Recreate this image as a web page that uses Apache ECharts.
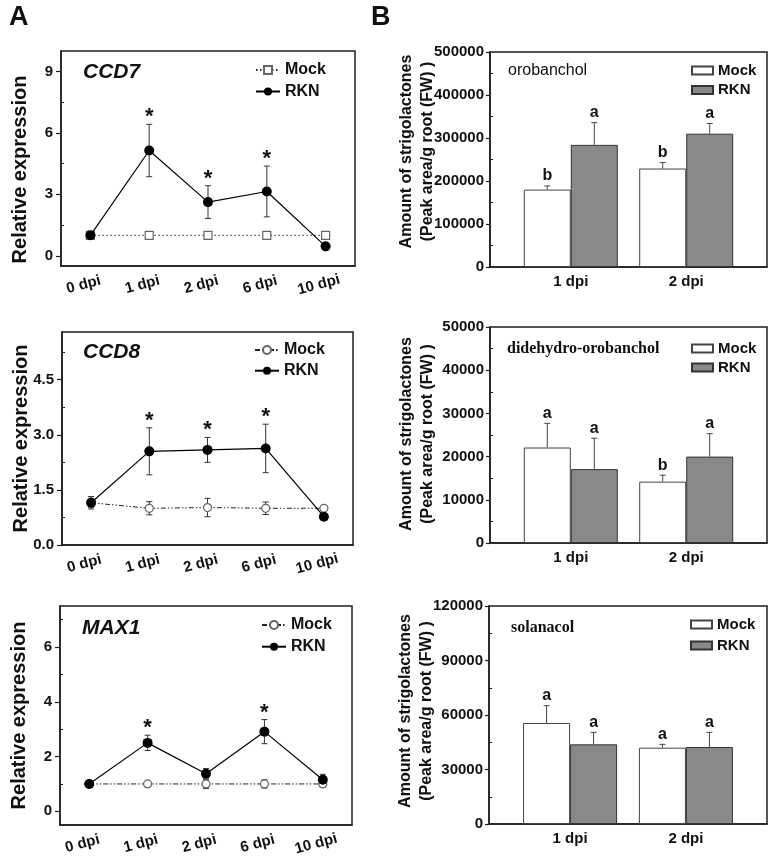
<!DOCTYPE html>
<html><head><meta charset="utf-8">
<script src="https://cdn.jsdelivr.net/npm/echarts@6/dist/echarts.min.js"></script>
<style>html,body{margin:0;padding:0;background:#fff}#c{width:771px;height:862px}</style>
</head><body><div id="c"></div>
<script>
// ---------- data ----------
const days = ['0 dpi', '1 dpi', '2 dpi', '6 dpi', '10 dpi'];

const ccd7Mock = [1.0, 1.0, 1.0, 1.0, 1.0];
const ccd7MockSd = [0.04, 0.1, 0.04, 0.04, 0.08];
const ccd7Rkn = [1.0, 5.14, 2.62, 3.14, 0.46];
const ccd7RknSd = [0.05, 1.28, 0.8, 1.24, 0.1];
const ccd7Sig = [0, 1, 1, 1, 0];
const ccd7Ticks = [0, 3, 6, 9];
const ccd7Minor = [1.5, 4.5, 7.5];

const ccd8Mock = [1.15, 1.0, 1.02, 1.0, 1.0];
const ccd8MockSd = [0.12, 0.18, 0.25, 0.17, 0.04];
const ccd8Rkn = [1.15, 2.55, 2.59, 2.63, 0.77];
const ccd8RknSd = [0.17, 0.64, 0.34, 0.66, 0.05];
const ccd8Sig = [0, 1, 1, 1, 0];
const ccd8Ticks = [0, 1.5, 3.0, 4.5];
const ccd8Minor = [0.75, 2.25, 3.75, 5.25];

const max1Mock = [1.0, 1.0, 1.0, 1.0, 1.0];
const max1MockSd = [0.03, 0.07, 0.17, 0.15, 0.13];
const max1Rkn = [1.0, 2.5, 1.37, 2.91, 1.15];
const max1RknSd = [0.05, 0.28, 0.19, 0.44, 0.2];
const max1Sig = [0, 1, 0, 1, 0];
const max1Ticks = [0, 2, 4, 6];
const max1Minor = [1, 3, 5, 7];

const barDays = ['1 dpi', '2 dpi'];

const oroMock = [180000, 229000];
const oroMockSd = [8500, 14000];
const oroRkn = [284000, 310000];
const oroRknSd = [51700, 23800];
const oroMockLetters = ['b', 'b'];
const oroRknLetters = ['a', 'a'];
const oroMinor = [50000, 150000, 250000, 350000, 450000];

const didMock = [22100, 14200];
const didMockSd = [5600, 1500];
const didRkn = [17100, 20000];
const didRknSd = [7150, 5300];
const didMockLetters = ['a', 'b'];
const didRknLetters = ['a', 'a'];
const didMinor = [5000, 15000, 25000, 35000, 45000];

const solMock = [55600, 42000];
const solMockSd = [9500, 1850];
const solRkn = [43850, 42400];
const solRknSd = [6600, 8050];
const solMockLetters = ['a', 'a'];
const solRknLetters = ['a', 'a'];
const solMinor = [15000, 45000, 75000, 105000];

// ---------- styling ----------
const FONT = "'Liberation Sans', Arial, Helvetica, sans-serif";
const SERIF = "'Liberation Serif', 'Times New Roman', serif";
const AX = '#1e1e1e';
const TXT = '#111';

const option = {
  animation: false, backgroundColor: '#fff',
  grid: [], xAxis: [], yAxis: [], series: [], legend: [], title: [],
  graphic: [
    { type: 'text', left: 9, top: 4, style: { text: 'A', font: 'bold 27px ' + FONT, fill: TXT } },
    { type: 'text', left: 371, top: 4, style: { text: 'B', font: 'bold 27px ' + FONT, fill: TXT } }
  ]
};

function lineErr(sig) {
  return function (params, api) {
    const x = api.value(0), m = api.value(1), s = api.value(2);
    const t = api.coord([x, m + s]), b = api.coord([x, m - s]);
    const cx = t[0];
    const st = { stroke: '#333', lineWidth: 1 };
    const ch = [
      { type: 'line', shape: { x1: cx, y1: t[1], x2: cx, y2: b[1] }, style: st },
      { type: 'line', shape: { x1: cx - 3, y1: t[1], x2: cx + 3, y2: t[1] }, style: st },
      { type: 'line', shape: { x1: cx - 3, y1: b[1], x2: cx + 3, y2: b[1] }, style: st }
    ];
    if (sig && sig[params.dataIndex]) {
      ch.push({ type: 'text', x: cx, y: t[1] - 7,
        style: { text: '*', font: 'bold 22px ' + FONT, fill: TXT, align: 'center', verticalAlign: 'middle' } });
    }
    return { type: 'group', children: ch };
  };
}

function barErr(off, letters) {
  return function (params, api) {
    const x = api.value(0), m = api.value(1), s = api.value(2);
    const b = api.coord([x, m]), t = api.coord([x, m + s]);
    const cx = b[0] + off;
    const st = { stroke: '#444', lineWidth: 1 };
    return { type: 'group', children: [
      { type: 'line', shape: { x1: cx, y1: b[1], x2: cx, y2: t[1] }, style: st },
      { type: 'line', shape: { x1: cx - 3, y1: t[1], x2: cx + 3, y2: t[1] }, style: st },
      { type: 'text', x: cx, y: t[1] - 2,
        style: { text: letters[params.dataIndex], font: 'bold 16px ' + FONT, fill: TXT, align: 'center', verticalAlign: 'bottom' } }
    ] };
  };
}

function addLine(p) {
  const g = option.grid.length;
  option.grid.push({ left: p.box[0], top: p.box[1], width: p.box[2], height: p.box[3],
    show: true, borderColor: AX, borderWidth: 1.5, backgroundColor: 'transparent' });
  const xi = option.xAxis.length;
  option.xAxis.push({ type: 'category', gridIndex: g, data: days, boundaryGap: true,
    axisLine: { onZero: false, lineStyle: { color: AX, width: 1.5 } },
    axisTick: { alignWithLabel: true, length: 4, lineStyle: { color: AX, width: 1.2 } },
    axisLabel: { interval: 0, rotate: 15, align: 'center', verticalAlign: 'middle', margin: 17,
      padding: [0, 14, 0, 0], fontSize: 15, fontWeight: 'bold', color: TXT, fontFamily: FONT },
    splitLine: { show: false } });
  const yi = option.yAxis.length;
  option.yAxis.push({ type: 'value', gridIndex: g, position: 'left', min: p.min, max: p.max,
    axisLine: { show: true, onZero: false, lineStyle: { color: AX, width: 1.5 } },
    axisTick: { show: true, customValues: p.ticks, length: 5, lineStyle: { color: AX, width: 1.2 } },
    axisLabel: { customValues: p.ticks, formatter: p.fmt, margin: 8, fontSize: 15, fontWeight: 'bold', color: TXT, fontFamily: FONT },
    splitLine: { show: false },
    name: 'Relative expression', nameLocation: 'middle', nameGap: 31, nameMoveOverlap: false,
    nameTextStyle: { fontSize: 20, fontWeight: 'bold', color: TXT, fontFamily: FONT, padding: p.namePad } });
  option.yAxis.push({ type: 'value', gridIndex: g, position: 'left', min: p.min, max: p.max,
    axisLine: { show: false }, axisLabel: { show: false }, splitLine: { show: false },
    axisTick: { show: true, inside: true, customValues: p.minor, length: 3, lineStyle: { color: AX, width: 1 } } });
  option.title.push({ text: p.title, left: p.titlePos[0], top: p.titlePos[1], padding: 0,
    textStyle: { fontSize: 21, fontStyle: 'italic', fontWeight: 'bold', color: TXT, fontFamily: FONT } });
  const mName = 'Mock|' + p.title, rName = 'RKN|' + p.title;
  option.legend.push({ left: p.leg[0], top: p.leg[1], orient: 'vertical', itemWidth: 24, itemHeight: 10,
    itemGap: p.leg[2], padding: 0, selectedMode: false, data: [mName, rName],
    formatter: n => n.split('|')[0],
    textStyle: { fontSize: 16, fontWeight: 'bold', color: TXT, fontFamily: FONT } });
  option.series.push({ type: 'custom', xAxisIndex: xi, yAxisIndex: yi, z: 1, silent: true, clip: false,
    data: p.mock.map((v, i) => [i, v, p.mockSd[i]]), renderItem: lineErr(null) });
  option.series.push({ type: 'custom', xAxisIndex: xi, yAxisIndex: yi, z: 1, silent: true, clip: false,
    data: p.rkn.map((v, i) => [i, v, p.rknSd[i]]), renderItem: lineErr(p.sig) });
  option.series.push({ type: 'line', name: mName, xAxisIndex: xi, yAxisIndex: yi, data: p.mock, z: 3,
    symbol: p.mockSym, symbolSize: 8, silent: true, emphasis: { disabled: true },
    itemStyle: { color: '#fff', borderColor: '#666', borderWidth: 1.2 },
    lineStyle: { color: '#222', width: 1, type: p.mockDash } });
  option.series.push({ type: 'line', name: rName, xAxisIndex: xi, yAxisIndex: yi, data: p.rkn, z: 4,
    symbol: 'circle', symbolSize: 10, silent: true, emphasis: { disabled: true },
    itemStyle: { color: '#000' }, lineStyle: { color: '#000', width: 1.2, type: 'solid' } });
}

function addBar(p) {
  const g = option.grid.length;
  option.grid.push({ left: p.box[0], top: p.box[1], width: p.box[2], height: p.box[3],
    show: true, borderColor: AX, borderWidth: 1.5, backgroundColor: 'transparent' });
  const xi = option.xAxis.length;
  option.xAxis.push({ type: 'value', gridIndex: g, min: 0.3, max: 2.7,
    axisLine: { show: true, onZero: false, lineStyle: { color: AX, width: 1.5 } },
    axisTick: { show: false },
    axisLabel: { customValues: [1, 2], formatter: v => barDays[Math.round(v) - 1], margin: 7,
      fontSize: 15, fontWeight: 'bold', color: TXT, fontFamily: FONT },
    splitLine: { show: false } });
  const yi = option.yAxis.length;
  option.yAxis.push({ type: 'value', gridIndex: g, position: 'left', min: 0, max: p.max, interval: p.interval,
    axisLine: { show: true, onZero: false, lineStyle: { color: AX, width: 1.5 } },
    axisTick: { show: true, length: 4, lineStyle: { color: AX, width: 1.2 } },
    axisLabel: { formatter: v => String(v), margin: 6, fontSize: 15, fontWeight: 'bold', color: TXT, fontFamily: FONT },
    splitLine: { show: false },
    name: 'Amount of strigolactones\n(Peak area/g root (FW) )', nameLocation: 'middle', nameGap: 52, nameMoveOverlap: false,
    nameTextStyle: { fontSize: 16, lineHeight: 21, fontWeight: 'bold', color: TXT, fontFamily: FONT, padding: p.namePad } });
  option.yAxis.push({ type: 'value', gridIndex: g, position: 'left', min: 0, max: p.max,
    axisLine: { show: false }, axisLabel: { show: false }, splitLine: { show: false },
    axisTick: { show: true, inside: true, customValues: p.minor, length: 3, lineStyle: { color: AX, width: 1 } } });
  option.title.push({ text: p.title, left: p.titlePos[0], top: p.titlePos[1], padding: 0,
    textStyle: { fontSize: 16, fontWeight: p.serif ? 'bold' : 'normal', color: TXT, fontFamily: p.serif ? SERIF : FONT } });
  const mName = 'Mock|' + p.title, rName = 'RKN|' + p.title;
  option.legend.push({ left: p.leg[0], top: p.leg[1], orient: 'vertical', icon: 'rect', itemWidth: 21, itemHeight: 8,
    itemGap: p.leg[2], padding: 0, selectedMode: false, data: [mName, rName],
    formatter: n => n.split('|')[0],
    textStyle: { fontSize: 15, fontWeight: 'bold', color: TXT, fontFamily: FONT } });
  option.series.push({ type: 'bar', name: mName, xAxisIndex: xi, yAxisIndex: yi, barWidth: 47, barGap: '0%',
    data: p.mock.map((v, i) => [i + 1, v]), silent: true, emphasis: { disabled: true },
    itemStyle: { color: '#fff', borderColor: '#444', borderWidth: 1 } });
  option.series.push({ type: 'bar', name: rName, xAxisIndex: xi, yAxisIndex: yi, barWidth: 47, barGap: '0%',
    data: p.rkn.map((v, i) => [i + 1, v]), silent: true, emphasis: { disabled: true },
    itemStyle: { color: '#898989', borderColor: '#333', borderWidth: 1 } });
  option.series.push({ type: 'custom', xAxisIndex: xi, yAxisIndex: yi, z: 5, silent: true, clip: false,
    data: p.mock.map((v, i) => [i + 1, v, p.mockSd[i]]), renderItem: barErr(-23.5, p.mockLet) });
  option.series.push({ type: 'custom', xAxisIndex: xi, yAxisIndex: yi, z: 5, silent: true, clip: false,
    data: p.rkn.map((v, i) => [i + 1, v, p.rknSd[i]]), renderItem: barErr(23.5, p.rknLet) });
}

const dotted = [1.5, 2.5];
const dashDotDot = [5, 2, 1.5, 2, 1.5, 2];

addLine({ box: [61, 51, 294, 215], min: -0.5, max: 10, ticks: ccd7Ticks, minor: ccd7Minor, fmt: v => String(v),
  title: 'CCD7', titlePos: [83, 62], leg: [255, 62, 5.5], namePad: [0, 22, 0, 0],
  mock: ccd7Mock, mockSd: ccd7MockSd, rkn: ccd7Rkn, rknSd: ccd7RknSd, sig: ccd7Sig, mockSym: 'rect', mockDash: dotted });
addLine({ box: [62, 332, 291, 213], min: 0, max: 5.8, ticks: ccd8Ticks, minor: ccd8Minor, fmt: v => v.toFixed(1),
  title: 'CCD8', titlePos: [83, 342], leg: [254, 342, 4.7], namePad: [0, 0, 0, 0],
  mock: ccd8Mock, mockSd: ccd8MockSd, rkn: ccd8Rkn, rknSd: ccd8RknSd, sig: ccd8Sig, mockSym: 'circle', mockDash: dashDotDot });
addLine({ box: [60, 606, 292, 219], min: -0.5, max: 7.5, ticks: max1Ticks, minor: max1Minor, fmt: v => String(v),
  title: 'MAX1', titlePos: [82, 618], leg: [261, 617, 5.7], namePad: [0, 0, 0, 0],
  mock: max1Mock, mockSd: max1MockSd, rkn: max1Rkn, rknSd: max1RknSd, sig: max1Sig, mockSym: 'circle', mockDash: dashDotDot });

addBar({ box: [490, 52, 277, 215], max: 500000, interval: 100000, minor: oroMinor,
  title: 'orobanchol', serif: false, titlePos: [508, 63], leg: [691, 63, 4.4], namePad: [0, 0, 0, 16],
  mock: oroMock, mockSd: oroMockSd, rkn: oroRkn, rknSd: oroRknSd, mockLet: oroMockLetters, rknLet: oroRknLetters });
addBar({ box: [490, 327, 277, 216], max: 50000, interval: 10000, minor: didMinor,
  title: 'didehydro-orobanchol', serif: true, titlePos: [507, 341], leg: [691, 341, 4], namePad: [0, 0, 0, 2],
  mock: didMock, mockSd: didMockSd, rkn: didRkn, rknSd: didRknSd, mockLet: didMockLetters, rknLet: didRknLetters });
addBar({ box: [489, 606, 278, 218], max: 120000, interval: 30000, minor: solMinor,
  title: 'solanacol', serif: true, titlePos: [511, 620], leg: [690, 617, 6], namePad: [0, 0, 0, 8],
  mock: solMock, mockSd: solMockSd, rkn: solRkn, rknSd: solRknSd, mockLet: solMockLetters, rknLet: solRknLetters });

const chart = echarts.init(document.getElementById('c'), null, { renderer: 'canvas' });
chart.setOption(option);
</script>
</body></html>
